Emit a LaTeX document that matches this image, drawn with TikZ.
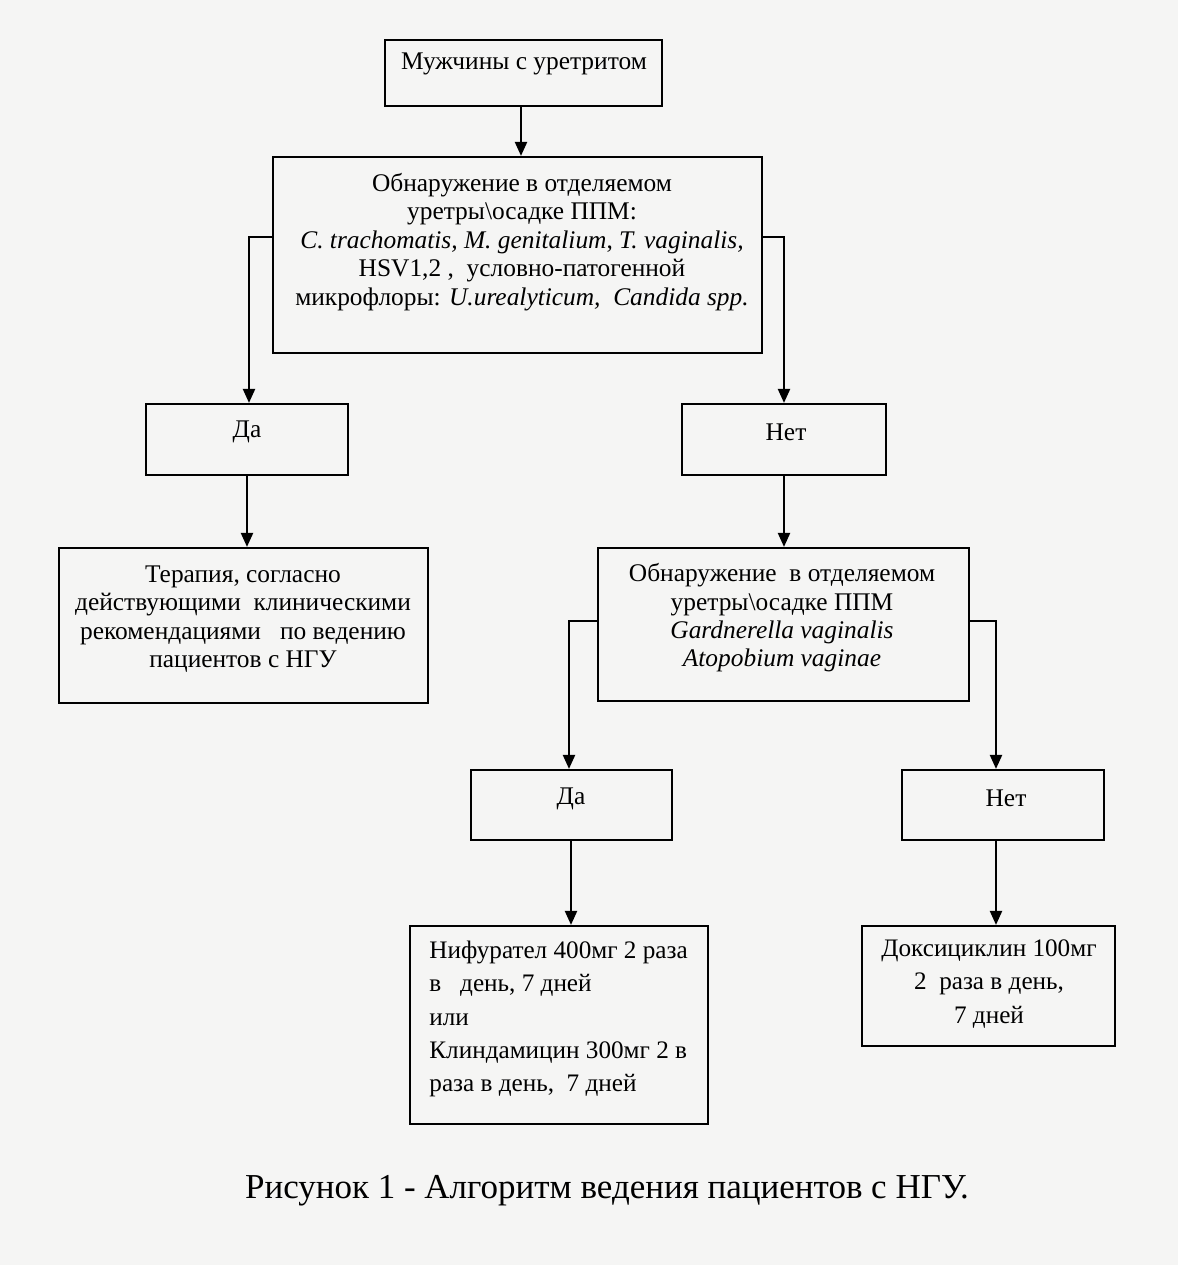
\documentclass[tikz,border=0pt]{standalone}
\usepackage{fontspec}
\setmainfont{Liberation Serif}
\usetikzlibrary{arrows.meta,calc}
\definecolor{paper}{RGB}{245,245,244}
\tikzset{
  box/.style={draw=black, line width=1.1pt, rectangle, inner sep=0pt},
  txt/.style={inner sep=0pt, align=center, font=\fontsize{12.7}{14.2}\selectfont},
  ltxt/.style={inner sep=0pt, align=left, font=\fontsize{12.6}{16.6}\selectfont},
  arr/.style={line width=1.1pt, -{Triangle[length=7pt,width=6pt]}}
}
\begin{document}
\begin{tikzpicture}[x=0.5pt,y=-0.5pt]
\useasboundingbox (0,0) rectangle (1178,1265);
\fill[paper] (0,0) rectangle (1178,1265);
% boxes
\node[box, minimum width=138.5pt, minimum height=33pt] (b1) at (523.5,73) {};
\node[box, minimum width=244.5pt, minimum height=98pt] (b2) at (517.5,255) {};
\node[box, minimum width=101pt, minimum height=35.5pt] (da1) at (247,439.5) {};
\node[box, minimum width=102pt, minimum height=35.5pt] (net1) at (784,439.5) {};
\node[box, minimum width=184.5pt, minimum height=77.5pt] (b5) at (243.5,625.5) {};
\node[box, minimum width=185.5pt, minimum height=76.5pt] (b6) at (783.5,624.5) {};
\node[box, minimum width=100.5pt, minimum height=35pt] (da2) at (571.5,805) {};
\node[box, minimum width=101pt, minimum height=35pt] (net2) at (1003,805) {};
\node[box, minimum width=149pt, minimum height=99pt] (b9) at (559,1025) {};
\node[box, minimum width=126.5pt, minimum height=60pt] (b10) at (988.5,986) {};
% texts
\node[txt] (t1) at (524,64) {Мужчины с уретритом};
\node[txt] (t2) at (522,242) {Обнаружение в отделяемом\\
уретры\textbackslash осадке ППМ:\\
\textit{C. trachomatis, M. genitalium}, \textit{T. vaginalis,}\\
HSV1,2 ,\ \ условно-патогенной\\
микрофлоры: \textit{U.urealyticum,\ \ Candida spp.}};
\node[txt] (tda1) at (247,432) {Да};
\node[txt] (tnet1) at (786,432) {Нет};
\node[txt] (t5) at (243,619) {Терапия, согласно\\
действующими\ \ клиническими\\
рекомендациями\ \ \ по ведению\\
пациентов с НГУ};
\node[txt] (t6) at (782,618) {Обнаружение\ \ в отделяемом\\
уретры\textbackslash осадке ППМ\\
\textit{Gardnerella vaginalis}\\
\textit{Atopobium vaginae}};
\node[txt] (tda2) at (571,799) {Да};
\node[txt] (tnet2) at (1006,798) {Нет};
\node[ltxt, anchor=west] (t9) at (429,1019) {Нифурател 400мг 2 раза\\
в\ \ \ день, 7 дней\\
или\\
Клиндамицин 300мг 2 в\\
раза в день,\ \ 7 дней};
\node[ltxt, align=center] (t10) at (989,984) {Доксициклин 100мг\\
2\ \ раза в день,\\
7 дней};
\node[inner sep=0pt, font=\fontsize{17.5}{20}\selectfont] (cap) at (607,1191) {Рисунок 1 - Алгоритм ведения пациентов с НГУ.};
% connectors
\draw[arr] (b1.south -| 521,0) -- (b2.north -| 521,0);
\draw[arr] (b2.west |- 0,237) -| (da1.north -| 249,0);
\draw[arr] (b2.east |- 0,237) -| (net1.north);
\draw[arr] (da1.south) -- (b5.north -| da1.south);
\draw[arr] (net1.south) -- (b6.north -| net1.south);
\draw[arr] (b6.west |- 0,621) -| (da2.north -| 569,0);
\draw[arr] (b6.east |- 0,621) -| (net2.north -| 996,0);
\draw[arr] (da2.south -| 571,0) -- (b9.north -| 571,0);
\draw[arr] (net2.south -| 996,0) -- (b10.north -| 996,0);
\end{tikzpicture}
\end{document}
